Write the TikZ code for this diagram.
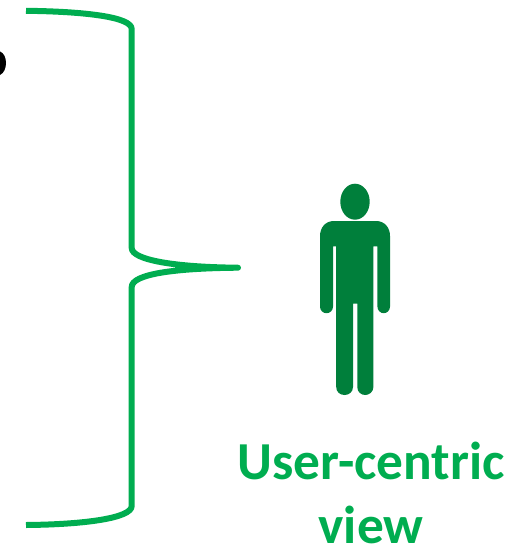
\documentclass[tikz,border=0pt]{standalone}
\usepackage{fontspec}
\setmainfont{Carlito}
\definecolor{brace}{HTML}{00AD50}
\definecolor{person}{HTML}{007F3B}
\tikzset{
  bracestroke/.style={draw=brace,line width=6pt,line join=round},
  bodyfill/.style={fill=person,draw=none},
  caption/.style={text=brace,font=\bfseries\fontsize{53.4}{64}\selectfont,align=center,inner sep=0pt}
}
\begin{document}
\begin{tikzpicture}[x=1pt,y=-1pt]
\useasboundingbox (0,0) rectangle (520,545);
% clipped black glyph
\fill[black] (0,51.5) .. controls (4,53) and (6,58) .. (6,63) .. controls (6,68) and (4,73) .. (0,75) -- cycle;
% brace
\draw[bracestroke] (26,10.8) .. controls (85,11.5) and (131.7,17) .. (131.7,29)
  -- (131.7,248) .. controls (131.7,260) and (175,267.2) .. (238,267.7)
  .. controls (175,268.2) and (131.7,274) .. (131.7,287)
  -- (131.7,506) .. controls (131.7,518) and (85,524.5) .. (26,525);
% person
\fill[bodyfill] (355,201.7) ellipse [x radius=14.7,y radius=18];
\fill[bodyfill] (334,221) -- (376,221)
  .. controls (385,221) and (390,228) .. (390,236)
  -- (390,306.5) .. controls (390,310.5) and (387,313.2) .. (383.7,313.2)
  .. controls (380.4,313.2) and (377.4,310.5) .. (377.4,306.5)
  -- (377.4,246.3) -- (373.4,246.3) -- (373.4,387)
  .. controls (373.4,392) and (369,395) .. (365.3,395)
  .. controls (361,395) and (357.3,392) .. (357.3,387)
  -- (357.3,303.5) -- (353,303.5) -- (353,387)
  .. controls (353,392) and (349,395) .. (344.5,395)
  .. controls (340,395) and (336.2,392) .. (336.2,387)
  -- (336.2,246.3) -- (333,246.3) -- (333,306.5)
  .. controls (333,310.5) and (330,313.2) .. (326.5,313.2)
  .. controls (323,313.2) and (320,310.5) .. (320,306.5)
  -- (320,236) .. controls (320,228) and (325,221) .. (334,221) -- cycle;
% caption
\node[caption] (cap) at (371,493) {User-centric\\view};
\end{tikzpicture}
\end{document}
